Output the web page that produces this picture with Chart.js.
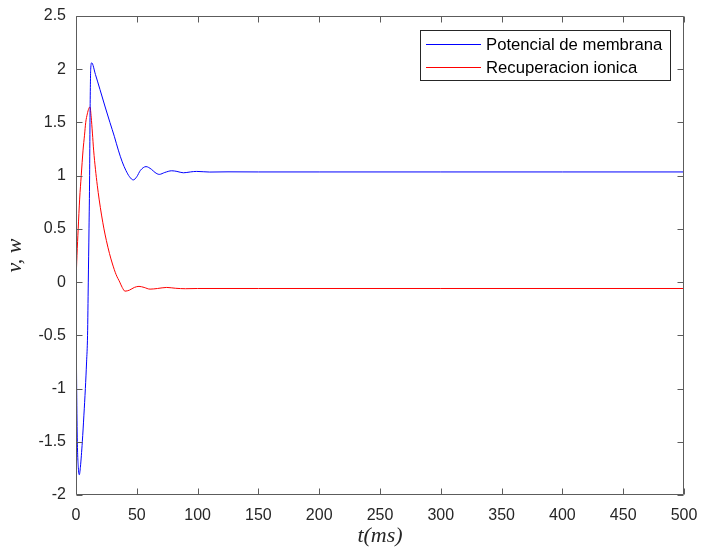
<!DOCTYPE html>
<html>
<head>
<meta charset="utf-8">
<title>Potencial de membrana y recuperacion ionica</title>
<script src="https://cdn.jsdelivr.net/npm/chart.js@4/dist/chart.umd.min.js"></script>
<style>
  html, body { margin: 0; padding: 0; background: #ffffff; }
  #wrap { width: 703px; height: 556px; }
</style>
</head>
<body>
<div id="wrap"><canvas id="c" width="703" height="556"></canvas></div>
<script>
// Membrane potential v(t)
const potencialT = [0, 0.27, 0.55, 1.1, 1.9, 2.7, 3.6, 5.2, 6.5, 7.7, 8.7, 9.5, 10.1, 10.7, 11.2, 11.5, 12.1, 12.9,
  16, 19.7, 24, 27.9, 31.5, 34.8, 38, 41, 44, 47.1, 50, 53, 57.6, 62, 65, 68.5, 73, 78.7, 83, 88.3, 94, 99.2,
  110, 125, 150, 200, 300, 400, 500];
const potencialV = [0, -0.54, -1.0, -1.5, -1.74, -1.81, -1.74, -1.5, -1.25, -1.0, -0.75, -0.5, 0, 0.5, 1.0, 1.5, 2.0, 2.06,
  1.95, 1.81, 1.645, 1.50, 1.37, 1.24, 1.13, 1.05, 0.99, 0.96, 0.99, 1.05, 1.085, 1.06, 1.03, 1.012, 1.03, 1.046, 1.04, 1.027, 1.035, 1.04,
  1.034, 1.036, 1.035, 1.035, 1.035, 1.035, 1.035];

// Ionic recovery w(t)
const recuperacionT = [0, 0.8, 1.8, 3, 4.3, 5.8, 7, 8, 9.3, 10.5, 11.5, 12.5, 13.5, 14.5, 16, 17.5, 19, 21, 23, 25, 27.5,
  30, 33, 36, 38, 40.3, 44, 48, 51.8, 56, 60.9, 67, 74.6, 82, 90, 100, 150, 300, 500];
const recuperacionV = [0, 0.25, 0.5, 0.78, 1.0, 1.24, 1.38, 1.5, 1.58, 1.63, 1.645, 1.55, 1.40, 1.24, 1.06, 0.91, 0.78, 0.63, 0.50, 0.39, 0.27,
  0.17, 0.07, 0.0, -0.05, -0.085, -0.075, -0.05, -0.04, -0.05, -0.066, -0.06, -0.05, -0.058, -0.062, -0.06, -0.06, -0.06, -0.06];

const seriesLabels = ['Potencial de membrana', 'Recuperacion ionica'];
const xTicks = [0, 50, 100, 150, 200, 250, 300, 350, 400, 450, 500];
const yTicks = [-2, -1.5, -1, -0.5, 0, 0.5, 1, 1.5, 2, 2.5];

const toPoints = (ts, vs) => ts.map((t, i) => ({ x: t, y: vs[i] }));

const AXIS_COLOR = '#262626';
const FRAME_COLOR = '#5c5c5c';
const SANS = "'Liberation Sans', Arial, Helvetica, sans-serif";
const SERIF = "'Liberation Serif', 'DejaVu Serif', serif";

// Box around the axes with inward ticks on all four sides, plus the legend.
const framePlugin = {
  id: 'frame',
  afterDraw(chart) {
    const { ctx, chartArea: a, scales: { x, y } } = chart;
    const L = Math.round(a.left) + 0.5, R = Math.round(a.right) - 0.5;
    const T = Math.round(a.top) + 0.5, B = Math.round(a.bottom) - 0.5;
    const len = 6;
    ctx.save();
    ctx.strokeStyle = FRAME_COLOR;
    ctx.lineWidth = 1;
    ctx.beginPath();
    ctx.rect(L, T, R - L, B - T);
    xTicks.forEach(v => {
      const px = Math.round(x.getPixelForValue(v)) + 0.5;
      ctx.moveTo(px, B); ctx.lineTo(px, B - len);
      ctx.moveTo(px, T); ctx.lineTo(px, T + len);
    });
    yTicks.forEach(v => {
      const py = Math.round(y.getPixelForValue(v)) + 0.5;
      ctx.moveTo(L, py); ctx.lineTo(L + len, py);
      ctx.moveTo(R, py); ctx.lineTo(R - len, py);
    });
    ctx.stroke();

    // legend
    const bx = 420.5, by = 30.5, bw = 250, bh = 50;
    ctx.fillStyle = '#ffffff';
    ctx.fillRect(bx, by, bw, bh);
    ctx.strokeStyle = AXIS_COLOR;
    ctx.strokeRect(bx, by, bw, bh);
    ctx.font = '16.7px ' + SANS;
    ctx.textBaseline = 'middle';
    ctx.textAlign = 'left';
    const rows = [44.5, 67.5];
    chart.data.datasets.forEach((ds, i) => {
      ctx.save();
      ctx.strokeStyle = ds.borderColor;
      ctx.lineWidth = 1;
      ctx.beginPath();
      ctx.moveTo(426, rows[i]); ctx.lineTo(481, rows[i]);
      ctx.stroke();
      ctx.restore();
      ctx.fillStyle = '#000000';
      ctx.fillText(ds.label, 486, rows[i] + 1);
    });
    ctx.restore();
  }
};

new Chart(document.getElementById('c'), {
  type: 'line',
  data: {
    datasets: [
      {
        label: seriesLabels[0],
        data: toPoints(potencialT, potencialV),
        borderColor: '#0000ff',
        borderWidth: 1,
        pointRadius: 0,
        cubicInterpolationMode: 'monotone',
        fill: false
      },
      {
        label: seriesLabels[1],
        data: toPoints(recuperacionT, recuperacionV),
        borderColor: '#ff0000',
        borderWidth: 1,
        pointRadius: 0,
        cubicInterpolationMode: 'monotone',
        fill: false
      }
    ]
  },
  options: {
    responsive: false,
    animation: false,
    devicePixelRatio: 1,
    layout: { padding: { top: 16, right: 19, left: 0, bottom: 0 } },
    plugins: { legend: { display: false }, tooltip: { enabled: false } },
    scales: {
      x: {
        type: 'linear',
        min: 0, max: 500,
        afterFit: s => { s.height = 61; s.paddingLeft = 0; s.paddingRight = 0; },
        afterBuildTicks: s => { s.ticks = xTicks.map(v => ({ value: v })); },
        grid: { display: false, drawTicks: false },
        border: { display: false },
        ticks: { color: AXIS_COLOR, font: { family: SANS, size: 16 }, padding: 11, maxRotation: 0,
                 callback: v => String(v) },
        title: { display: true, text: 't(ms)', color: AXIS_COLOR,
                 font: { family: SERIF, size: 22, style: 'italic' }, padding: { top: 0, bottom: 7 } }
      },
      y: {
        type: 'linear',
        min: -2, max: 2.5,
        afterFit: s => { s.width = 76; s.paddingTop = 0; s.paddingBottom = 0; },
        afterBuildTicks: s => { s.ticks = yTicks.map(v => ({ value: v })); },
        grid: { display: false, drawTicks: false },
        border: { display: false },
        ticks: { color: AXIS_COLOR, font: { family: SANS, size: 16 }, padding: 10,
                 callback: v => String(v) },
        title: { display: true, text: 'v, w', color: AXIS_COLOR,
                 font: { family: SERIF, size: 22, style: 'italic' }, padding: { top: 2, bottom: 0 } }
      }
    }
  },
  plugins: [framePlugin]
});
</script>
</body>
</html>
